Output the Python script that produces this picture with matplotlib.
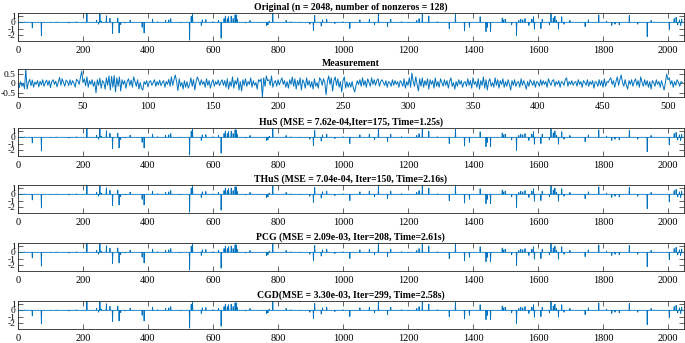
import numpy as np
import matplotlib
matplotlib.use("Agg")
import matplotlib.pyplot as plt

plt.rcParams['font.family'] = ['Liberation Serif', 'DejaVu Serif']

N = 2048
M = 512

# sparse signal: positions (0-based sample index) and amplitudes
spike_pos = [20, 44, 72, 100, 118, 157, 180, 212, 242, 248, 252, 256, 272, 283, 291, 307, 311, 316,
             330, 345, 382, 388, 414, 430, 454, 464, 470, 500, 528, 533, 537, 564, 567, 578, 600,
             617, 625, 634, 638, 644, 648, 656, 662, 668, 671, 674, 700, 714, 765, 769, 773, 784,
             825, 840, 870, 898, 909, 913, 933, 937, 950, 975, 1000,
             1021, 1052, 1081, 1097, 1109, 1137, 1147, 1180, 1200, 1227, 1234, 1244, 1264, 1290,
             1327, 1346, 1374, 1389, 1422, 1440, 1444, 1454, 1490, 1493, 1499, 1519, 1534, 1541,
             1547, 1553, 1560, 1572, 1581, 1586, 1589, 1609, 1613, 1635, 1640, 1647, 1652, 1657,
             1663, 1673, 1680, 1698, 1700, 1745, 1755, 1787, 1811, 1827, 1837, 1850, 1881, 1907,
             1936, 1948, 2004, 2019, 2025, 2030, 2035, 2039, 2042]
spike_val = [0.05, -0.9, -2.2, -0.05, 0.05, -0.1, 0.08, 1.45, 0.3, -0.3, 1.35, 0.2, 1.05, 0.65, -1.8, 0.7, -1.7, -0.35,
             -0.1, 0.35, -0.8, -1.7, 0.5, 0.1, 0.3, 0.4, 0.6, -0.08, -2.85, 1.0, 1.3, -0.5, 0.4, 0.45, 0.1,
             0.3, -2.55, 0.6, 1.0, 0.6, 0.9, 1.0, 0.6, 1.2, 1.2, 0.5, -0.1, 0.3, -0.5, -0.4, 0.2, 1.4,
             0.3, 0.08, -0.05, -0.3, -1.3, 1.1, -0.6, 0.4, 0.5, -0.2, 0.1,
             -1.0, 0.4, 0.5, -0.4, 1.45, -0.7, 0.5, 0.1, -0.05, 0.3, 0.6, 1.4, 1.0, 0.1,
             -1.0, 1.3, -1.4, -0.8, 0.9, -1.5, -0.8, -1.5, 0.7, 0.4, 0.5, -0.4, -2.1, 0.3,
             0.5, 0.4, 0.6, -0.5, 0.5, 0.9, -1.1, -1.0, 0.5, -0.4, 1.4, 0.7, 1.0, 0.3,
             -1.1, 0.9, -0.3, 0.3, 0.05, -0.7, 0.4, 1.2, 0.2, -0.5, -0.3, -0.4, 1.1, -0.3,
             -2.3, 0.3, -1.2, 0.6, 0.8, -0.4, 0.4, -0.5, 0.5]

measurement = [
    0.05, -0.22, 0.10, -0.15, 0.02, -0.28, 0.77, -0.30, 0.05, 0.22, -0.12, 0.18, -0.20, 0.08, -0.05, 0.15,
    -0.18, 0.12, -0.08, 0.20, -0.15, 0.05, 0.18, -0.10, 0.15, -0.22, 0.10, 0.20, -0.05, 0.12, -0.18, 0.08,
    0.32, -0.10, 0.25, 0.05, -0.15, 0.18, 0.10, -0.12, 0.20, -0.08, 0.15, 0.02, -0.20, 0.22, 0.15, -0.05,
    0.30, 0.65, 0.05, 0.25, -0.12, 0.35, -0.20, 0.15, -0.05, 0.20, -0.15, 0.10, -0.50, 0.20, -0.10, 0.28,
    -0.25, 0.15, 0.05, -0.30, 0.30, -0.10, 0.40, -0.35, 0.38, -0.20, 0.42, -0.45, 0.30, -0.15, 0.35, -0.40,
    0.20, -0.05, 0.15, -0.25, 0.10, 0.25, -0.10, 0.18, -0.20, 0.35, 0.10, -0.15, 0.20, -0.30, 0.05, -0.25,
    -0.35, 0.10, -0.05, 0.15, -0.18, 0.08, 0.15, -0.10, 0.05, 0.20, -0.15, 0.10, -0.08, 0.18, -0.12, 0.05,
    0.15, -0.20, 0.10, -0.05, 0.22, -0.15, 0.35, -0.10, 0.20, 0.45, 0.10, -0.38, 0.25, -0.15, 0.05, -0.30,
    0.15, -0.20, 0.10, -0.25, -0.05, 0.30, -0.15, 0.20, -0.35, 0.10, 0.35, 0.15, -0.10, 0.20, -0.05, 0.10,
    -0.20, 0.25, -0.10, 0.15, -0.25, 0.05, 0.20, -0.15, 0.10, -0.05, 0.18, -0.12, 0.08, 0.20, -0.10, 0.15,
    -0.20, 0.25, -0.30, 0.10, -0.15, 0.35, -0.25, 0.15, -0.05, 0.30, -0.35, 0.10, -0.40, 0.20, -0.10, 0.25,
    -0.15, 0.10, -0.05, 0.30, -0.20, 0.15, -0.10, 0.05, -0.30, 0.20, 0.10, 0.25, -0.72, 0.30, -0.15, 0.40,
    0.15, 0.20, -0.10, 0.40, -0.20, 0.05, 0.15, -0.15, 0.20, -0.08, 0.12, 0.30, -0.05, 0.15, -0.20, 0.10,
    -0.25, 0.20, -0.05, 0.35, -0.15, 0.25, -0.30, 0.15, -0.10, 0.30, -0.35, 0.20, 0.05, -0.25, 0.30, -0.10,
    0.15, -0.20, 0.10, -0.30, 0.25, -0.15, 0.05, -0.25, 0.30, 0.20, -0.10, 0.25, 0.05, -0.60, 0.10, 0.40,
    -0.05, 0.30, -0.40, 0.15, 0.35, -0.10, 0.25, -0.20, 0.10, -0.45, 0.15, 0.35, -0.25, 0.10, -0.20, 0.05,
    -0.20, 0.10, -0.25, -0.45, -0.10, 0.15, -0.05, 0.20, -0.15, 0.30, -0.10, 0.15, -0.20, 0.25, 0.05, -0.15,
    0.30, -0.05, 0.20, -0.10, 0.15, 0.25, -0.15, 0.10, 0.20, 0.05, -0.10, 0.15, -0.20, 0.10, 0.05, -0.15,
    0.20, -0.10, 0.15, -0.05, 0.10, -0.20, 0.15, 0.05, -0.15, 0.25, -0.25, 0.10, -0.10, 0.30, -0.20, 0.55,
    0.10, -0.15, 0.35, -0.05, -0.40, 0.25, -0.15, 0.30, -0.20, 0.15, -0.10, 0.25, -0.30, 0.20, -0.05, 0.15,
    -0.25, 0.30, -0.15, 0.10, -0.20, 0.25, 0.05, -0.15, 0.20, -0.10, 0.15, -0.25, 0.10, 0.30, -0.15, 0.05,
    -0.30, 0.10, -0.15, 0.20, -0.05, 0.15, -0.20, 0.05, 0.10, -0.15, 0.25, -0.10, 0.15, -0.25, 0.30, -0.05,
    0.10, -0.20, 0.25, -0.30, 0.15, -0.10, 0.35, -0.25, 0.20, -0.35, 0.10, 0.25, -0.15, 0.05, -0.20, 0.30,
    -0.10, 0.20, -0.25, 0.15, -0.05, 0.25, -0.20, 0.10, -0.15, 0.20, -0.05, -0.35, 0.15, -0.10, 0.20, -0.15,
    0.05, 0.10, -0.20, 0.25, -0.10, 0.15, -0.05, -0.30, 0.10, -0.15, 0.20, 0.05, -0.10, 0.15, -0.20, 0.10,
    0.05, -0.15, 0.20, -0.10, 0.15, -0.05, 0.10, -0.20, 0.25, 0.05, -0.10, 0.15, 0.20, -0.15, 0.10, -0.05,
    0.15, -0.20, 0.10, 0.05, -0.10, 0.20, 0.30, -0.15, 0.10, -0.05, 0.15, -0.10, 0.05, 0.10, -0.15, 0.20,
    -0.05, 0.10, -0.20, 0.15, 0.05, -0.10, 0.20, -0.15, 0.10, -0.05, 0.15, -0.25, 0.10, 0.05, -0.15, 0.20,
    -0.10, 0.15, -0.20, 0.25, -0.15, 0.10, 0.05, 0.20, 0.30, -0.05, 0.15, -0.20, 0.10, 0.35, -0.10, 0.20,
    0.45, 0.05, -0.15, 0.20, -0.10, -0.30, 0.15, -0.05, 0.20, -0.15, 0.10, 0.25, -0.10, 0.15, -0.20, 0.35,
    0.05, -0.15, 0.20, -0.10, 0.15, -0.20, 0.10, -0.30, 0.15, 0.05, -0.15, 0.20, -0.05, 0.10, -0.20, 0.15,
    -0.10, -0.35, 0.05, 0.50, 0.20, 0.30, -0.05, 0.15, -0.20, 0.10, -0.10, 0.20, 0.05, -0.15, 0.10, 0.05,
]

titles = [
    "Original (n = 2048, number of nonzeros = 128)",
    "Measurement",
    "HuS (MSE = 7.62e-04,Iter=175, Time=1.25s)",
    "THuS (MSE = 7.04e-04, Iter=150, Time=2.16s)",
    "PCG (MSE = 2.09e-03, Iter=208, Time=2.61s)",
    "CGD(MSE = 3.30e-03, Iter=299, Time=2.58s)",
]

sig_xticks = list(range(0, 2001, 200))
sig_yticks = [-2, -1, 0, 1]
meas_xticks = list(range(0, 501, 50))
meas_yticks = [-0.5, 0, 0.5]

x_true = np.zeros(N)
x_true[spike_pos] = spike_val
recons = [x_true.copy() for _ in range(4)]

W, H = 685, 343
fig = plt.figure(figsize=(W / 100, H / 100), dpi=100)
tops = [13, 69, 128, 185, 243, 301]
ah = 28
left, right = 18, 683.6
color = '#0072BD'
edge = '#262626'

for k, top in enumerate(tops):
    ax = fig.add_axes([left / W, 1 - (top + ah) / H, (right - left) / W, ah / H])
    if k == 1:
        ax.plot(np.arange(M), measurement, color=color, lw=0.7)
        ax.set_xlim(0, M)
        ax.set_ylim(min(measurement), max(measurement))
        ax.set_xticks(meas_xticks)
        ax.set_yticks(meas_yticks)
        ax.set_yticklabels(['-0.5', '0', '0.5'])
    else:
        y = x_true if k == 0 else recons[k - 2]
        ax.plot(np.arange(N), y, color=color, lw=0.6)
        ax.set_xlim(0, N)
        ax.set_ylim(-3.0, 1.5)
        ax.set_xticks(sig_xticks)
        ax.set_yticks(sig_yticks)
        ax.set_yticklabels(['-2', '-1', '0', '1'])
    ax.set_title(titles[k], fontsize=7, fontweight='bold', pad=2.5, color='black')
    ax.tick_params(direction='in', top=True, right=True, length=3.5, width=0.5,
                   colors=edge, labelcolor='black')
    ax.tick_params(axis='x', pad=3.5, labelsize=7.5)
    ax.tick_params(axis='y', pad=1.8, labelsize=6.8)
    for s in ax.spines.values():
        s.set_linewidth(0.6)
        s.set_color(edge)

fig.savefig('out.png', dpi=100)
